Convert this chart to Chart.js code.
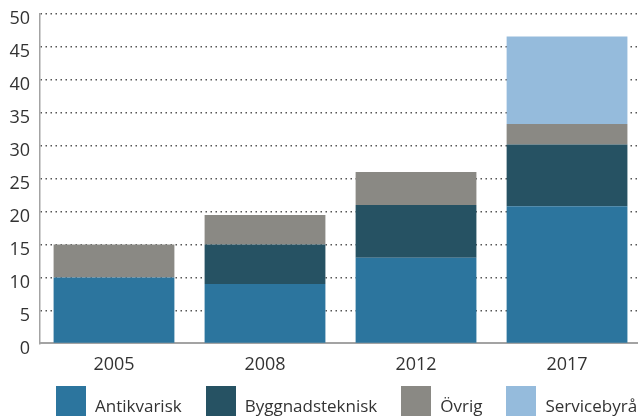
<!DOCTYPE html>
<html>
<head>
<meta charset="utf-8">
<script src="https://cdn.jsdelivr.net/npm/chart.js@4/dist/chart.umd.min.js"></script>
<style>
    html, body { margin: 0; padding: 0; overflow: hidden; background: #fff; }
    body { width: 638px; height: 417px; position: relative; }
    #wrap { position: absolute; left: 0; top: 0; width: 638px; height: 393px; }
    #legend { position: absolute; left: 56px; top: 386px; display: flex; font-family: "Open Sans", sans-serif; font-size: 17px; color: #333; white-space: nowrap; }
    .item { display: flex; align-items: flex-start; margin-right: 24px; }
    .box { width: 30px; height: 30px; margin-right: 9px; }
    .label { margin-top: 8px; line-height: normal; }
</style>
</head>
<body>
<div id="wrap"><canvas id="chart"></canvas></div>
<div id="legend"></div>
<script>
// Data
const years = ['2005', '2008', '2012', '2017'];
const antikvarisk = [10, 9, 13, 20.8];
const byggnadsteknisk = [0, 6, 8, 9.4];
const ovrig = [5, 4.5, 5, 3.1];
const servicebyra = [0, 0, 0, 13.3];

const seriesNames = ['Antikvarisk', 'Byggnadsteknisk', 'Övrig', 'Servicebyrå'];
const seriesColors = ['#2c759e', '#265263', '#8a8984', '#95bbdc'];
const seriesValues = [antikvarisk, byggnadsteknisk, ovrig, servicebyra];

const ctx = document.getElementById('chart').getContext('2d');

// x is a linear index axis so the last bar can sit close to the right edge like the original
const chart = new Chart(ctx, {
    type: 'bar',
    data: {
        datasets: seriesNames.map((name, i) => ({
            label: name,
            data: seriesValues[i].map((v, j) => ({ x: j, y: v })),
            backgroundColor: seriesColors[i],
            borderWidth: 0,
            barPercentage: 0.8,
            categoryPercentage: 1
        }))
    },
    options: {
        responsive: true,
        maintainAspectRatio: false,
        animation: false,
        layout: { padding: { top: 14, bottom: 6, left: 0, right: 0 } },
        plugins: {
            legend: { display: false },
            tooltip: { enabled: false }
        },
        scales: {
            x: {
                type: 'linear',
                stacked: true,
                offset: false,
                min: -0.49,
                max: 3.47,
                afterBuildTicks: scale => {
                    scale.ticks = years.map((_, i) => ({ value: i }));
                },
                grid: { display: false, drawTicks: false },
                border: { display: true, color: '#a3a3a3', width: 2 },
                ticks: {
                    color: '#333',
                    padding: 11,
                    maxRotation: 0,
                    autoSkip: false,
                    callback: value => years[value] ?? '',
                    font: { family: 'Open Sans', size: 18 }
                }
            },
            y: {
                stacked: true,
                min: 0,
                max: 50,
                afterFit: scale => {
                    scale.width = 40;
                    scale.paddingTop = 0;
                    scale.paddingBottom = 0;
                },
                grid: {
                    drawTicks: false,
                    color: ctx => ctx.tick && ctx.tick.value === 0 ? 'rgba(0,0,0,0)' : '#555',
                    lineWidth: 1.5
                },
                border: { display: true, color: '#a3a3a3', width: 1.5, dash: [1.5, 3.5] },
                ticks: {
                    stepSize: 5,
                    color: '#333',
                    padding: 10,
                    labelOffset: 5,
                    font: { family: 'Open Sans', size: 18 }
                }
            }
        }
    }
});

// HTML legend built from the datasets
const legendEl = document.getElementById('legend');
chart.data.datasets.forEach(ds => {
    const item = document.createElement('div');
    item.className = 'item';
    const box = document.createElement('div');
    box.className = 'box';
    box.style.background = ds.backgroundColor;
    const label = document.createElement('span');
    label.className = 'label';
    label.textContent = ds.label;
    item.appendChild(box);
    item.appendChild(label);
    legendEl.appendChild(item);
});
</script>
</body>
</html>
